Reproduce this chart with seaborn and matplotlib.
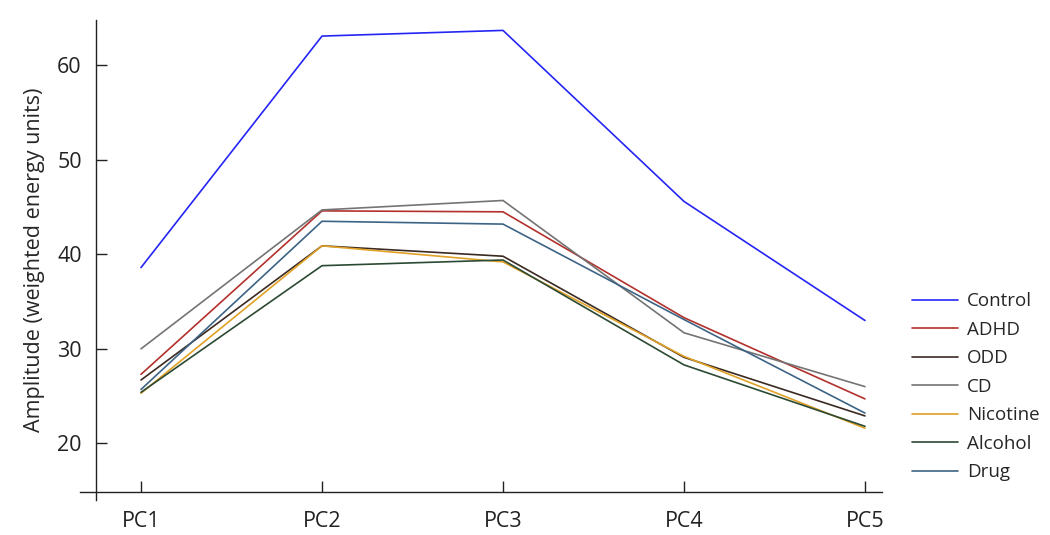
import pandas as pd
import matplotlib
matplotlib.use("Agg")
import matplotlib.pyplot as plt
import seaborn as sns

components = ["PC1", "PC2", "PC3", "PC4", "PC5"]
groups = ["Control", "ADHD", "ODD", "CD", "Nicotine", "Alcohol", "Drug"]
control = [38.6, 63.1, 63.7, 45.6, 33.0]
adhd = [27.3, 44.6, 44.5, 33.3, 24.7]
odd = [26.7, 40.9, 39.8, 29.1, 22.9]
cd = [30.0, 44.7, 45.7, 31.7, 26.0]
nicotine = [25.3, 40.9, 39.2, 29.2, 21.6]
alcohol = [25.4, 38.8, 39.4, 28.3, 21.8]
drug = [25.7, 43.5, 43.2, 33.1, 23.2]

colors = {
    "Control": "#2525f5", "ADHD": "#b3312c", "ODD": "#3b2a22", "CD": "#747474",
    "Nicotine": "#e0a126", "Alcohol": "#2c4a33", "Drug": "#3d6485",
}

series = [control, adhd, odd, cd, nicotine, alcohol, drug]
df = pd.DataFrame([(g, c, v) for g, vals in zip(groups, series) for c, v in zip(components, vals)],
                  columns=["group", "component", "amplitude"])

sns.set_theme(style="white")
plt.rcParams["font.family"] = ["Open Sans", "DejaVu Sans"]

fig = plt.figure(figsize=(10.5, 5.35), dpi=100)
ax = fig.add_axes([0.0762, 0.0654, 0.7638, 0.8972])

sns.lineplot(data=df, x="component", y="amplitude", hue="group", hue_order=groups,
             palette=colors, linewidth=1.2, ax=ax, sort=False)

ax.set_xlim(-0.337, 4.094)
ax.set_ylim(14.0, 64.8)
ax.set_yticks([20, 30, 40, 50, 60])
ax.set_xlabel("")
ax.set_ylabel("Amplitude (weighted energy units)", fontsize=15.5, labelpad=9)
ax.tick_params(axis="both", direction="in", length=8, width=1, labelsize=15.5, colors="#222222",
               left=True, bottom=True)
ax.tick_params(axis="x", pad=14)
ax.tick_params(axis="y", pad=10)

for side in ["top", "right"]:
    ax.spines[side].set_visible(False)
ax.spines["left"].set_position(("data", -0.25))
ax.spines["bottom"].set_position(("data", 14.9))
for side in ["left", "bottom"]:
    ax.spines[side].set_color("#222222")
    ax.spines[side].set_linewidth(1.0)

ax.legend(frameon=False, loc="upper left", bbox_to_anchor=(0.861, 0.468),
          bbox_transform=fig.transFigure, fontsize=13.5, handlelength=2.5,
          handletextpad=0.45, labelspacing=0.56, borderaxespad=0)

fig.savefig("out.png", dpi=100)
